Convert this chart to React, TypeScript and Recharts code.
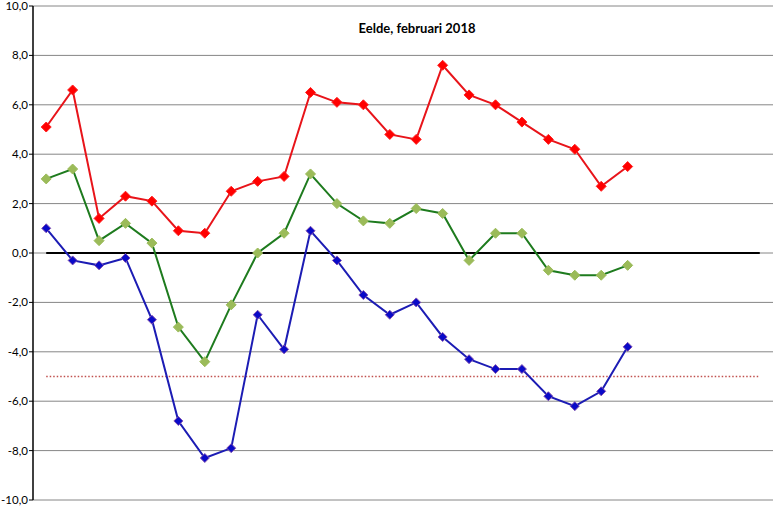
import React from 'react';
import { LineChart, Line, XAxis, YAxis, CartesianGrid, ReferenceLine } from 'recharts';

const days = Array.from({ length: 28 }, (_, i) => String(i + 1));
const maxTemp = [5.1, 6.6, 1.4, 2.3, 2.1, 0.9, 0.8, 2.5, 2.9, 3.1, 6.5, 6.1, 6.0, 4.8, 4.6, 7.6, 6.4, 6.0, 5.3, 4.6, 4.2, 2.7, 3.5];
const meanTemp = [3.0, 3.4, 0.5, 1.2, 0.4, -3.0, -4.4, -2.1, 0.0, 0.8, 3.2, 2.0, 1.3, 1.2, 1.8, 1.6, -0.3, 0.8, 0.8, -0.7, -0.9, -0.9, -0.5];
const minTemp = [1.0, -0.3, -0.5, -0.2, -2.7, -6.8, -8.3, -7.9, -2.5, -3.9, 0.9, -0.3, -1.7, -2.5, -2.0, -3.4, -4.3, -4.7, -4.7, -5.8, -6.2, -5.6, -3.8];
const yTicks = [-10, -8, -6, -4, -2, 0, 2, 4, 6, 8, 10];
const frostLine = -5;
const title = 'Eelde, februari 2018';

const data = days.map((d, i) => ({
  day: d,
  max: maxTemp[i],
  mean: meanTemp[i],
  min: minTemp[i],
}));

const diamond = (fill: string, stroke: string, r: number) => (props: any) => {
  const { cx, cy, index } = props;
  if (cx == null || cy == null || Number.isNaN(cy)) return <g key={index} />;
  return (
    <path
      key={index}
      d={`M${cx},${cy - r} L${cx + r},${cy} L${cx},${cy + r} L${cx - r},${cy} Z`}
      fill={fill}
      stroke={stroke}
      strokeWidth={1}
    />
  );
};

const fmt = (v: number) => v.toFixed(1).replace('.', ',');

export default function App() {
  return (
    <div style={{ position: 'absolute', left: 0, top: 0, width: 779, height: 508, background: '#fff', fontFamily: 'Lato, sans-serif' }}>
      <div
        style={{
          position: 'absolute',
          left: 317,
          width: 200,
          top: 20,
          textAlign: 'center',
          fontWeight: 700,
          fontSize: 13,
          color: '#000',
          zIndex: 2,
        }}
      >
        {title}
      </div>
      <LineChart width={779} height={508} data={data} margin={{ top: 6, right: 6, bottom: 8, left: 0 }}>
        <CartesianGrid horizontal vertical={false} stroke="#868686" strokeWidth={1} />
        <XAxis dataKey="day" type="category" scale="band" hide />
        <YAxis
          domain={[-10, 10]}
          ticks={yTicks}
          interval={0}
          width={33}
          tickFormatter={fmt}
          tick={{ fill: '#000', fontSize: 11.5, fontFamily: 'Lato, sans-serif' }}
          tickSize={4}
          tickMargin={1}
          axisLine={{ stroke: '#000', strokeWidth: 1.5 }}
          tickLine={{ stroke: '#000' }}
        />
        <ReferenceLine
          segment={[{ x: days[0], y: 0 }, { x: days[days.length - 1], y: 0 }]}
          stroke="#000"
          strokeWidth={2.2}
        />
        <ReferenceLine
          segment={[{ x: days[0], y: frostLine }, { x: days[days.length - 1], y: frostLine }]}
          stroke="#C0504D"
          strokeWidth={1.5}
          strokeDasharray="1.5 2"
        />
        <Line
          dataKey="max"
          stroke="#E8141A"
          strokeWidth={2}
          dot={diamond('#FF0000', '#FF2020', 5)}
          isAnimationActive={false}
        />
        <Line
          dataKey="mean"
          stroke="#1E7B1E"
          strokeWidth={2}
          dot={diamond('#9BBB59', '#9BBB59', 5)}
          isAnimationActive={false}
        />
        <Line
          dataKey="min"
          stroke="#1C1CB4"
          strokeWidth={2}
          dot={diamond('#0A0AC8', '#8050B0', 4.5)}
          isAnimationActive={false}
        />
      </LineChart>
    </div>
  );
}
